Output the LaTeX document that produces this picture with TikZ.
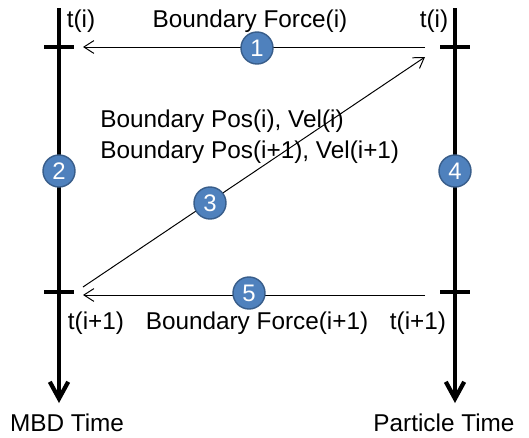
\documentclass[tikz,border=0pt]{standalone}
\usepackage{fontspec}
\setmainfont{Liberation Sans}
\usepackage{tikz}
\usetikzlibrary{arrows.meta, positioning}
\definecolor{stepblue}{HTML}{4F81BD}
\definecolor{stepedge}{HTML}{385D8A}

\tikzset{
  timeaxis/.style={line width=3.2pt, -{Straight Barb[length=0.42cm, width=0.46cm, line width=3pt]}},
  tick/.style={line width=3.2pt},
  msg/.style={line width=0.7pt, -{Straight Barb[length=0.25cm, width=0.32cm, line width=0.7pt]}},
  stepnum/.style={circle, fill=stepblue, draw=stepedge, line width=1pt, minimum size=0.8cm,
    inner sep=0pt, text=white, font=\fontsize{17}{18}\selectfont},
  lbl/.style={font=\fontsize{17.3}{20}\selectfont, inner sep=0pt}
}

\begin{document}
\begin{tikzpicture}[x=0.025cm, y=-0.025cm]

  \useasboundingbox (0,0) rectangle (529,437);

  %% time axes
  \coordinate (mbdtop) at (59,8);
  \coordinate (mbdend) at (59,403);
  \coordinate (partop) at (455,8);
  \coordinate (parend) at (455,403);
  \draw[timeaxis] (mbdtop) -- (mbdend);
  \draw[timeaxis] (partop) -- (parend);

  %% ticks at t(i) and t(i+1)
  \foreach \x in {59,455}{
    \draw[tick] (\x-15,47) -- (\x+15,47);
    \draw[tick] (\x-15,292) -- (\x+15,292);
  }

  %% message end points
  \coordinate (pf1) at (425,47);
  \coordinate (mf1) at (83,47);
  \coordinate (mp1) at (83,287);
  \coordinate (pp1) at (425,57);
  \coordinate (pf2) at (425,295);
  \coordinate (mf2) at (83,295);

  \draw[msg] (pf1) -- (mf1);
  \draw[msg] (mp1) -- (pp1);
  \draw[msg] (pf2) -- (mf2);

  %% numbered steps
  \node[stepnum] (s1) at (257,48) {1};
  \node[stepnum] (s2) at (59,171) {2};
  \node[stepnum] (s3) at (210,203) {3};
  \node[stepnum] (s4) at (455,171) {4};
  \node[stepnum] (s5) at (249,293) {5};

  %% labels
  \node[lbl] (ti-m) at (81,21) {t(i)};
  \node[lbl] (ti-p) at (434,21) {t(i)};
  \node[lbl] (force1) at (250,21) {Boundary Force(i)};
  \node[lbl, anchor=west] (pos1) at (100,121) {Boundary Pos(i), Vel(i)};
  \node[lbl, anchor=west] (pos2) at (100,152) {Boundary Pos(i+1), Vel(i+1)};
  \node[lbl] (tn-m) at (96,323) {t(i+1)};
  \node[lbl] (force2) at (257,323) {Boundary Force(i+1)};
  \node[lbl] (tn-p) at (418,323) {t(i+1)};
  \node[lbl] (mbdtime) at (67,423) {MBD Time};
  \node[lbl] (partime) at (444,423) {Particle Time};

\end{tikzpicture}
\end{document}
